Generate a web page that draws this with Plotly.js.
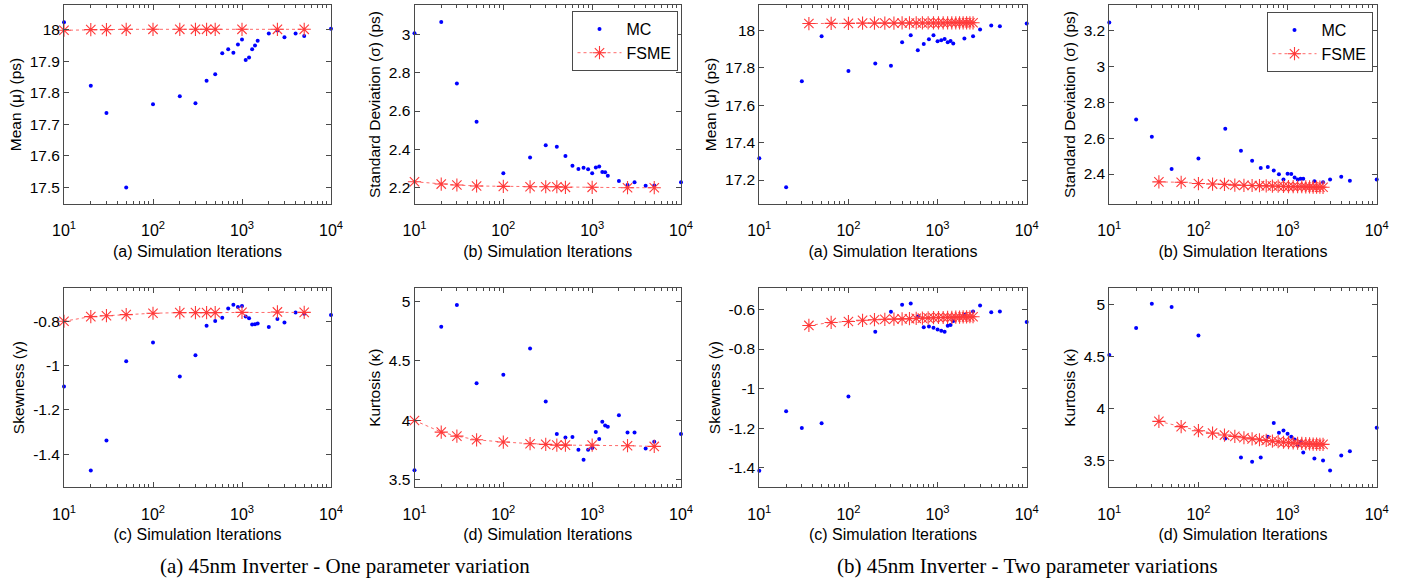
<!DOCTYPE html>
<html><head><meta charset="utf-8">
<script src="https://cdn.plot.ly/plotly-3.0.1.min.js"></script>
<style>html,body{margin:0;padding:0;background:#fff}#chart{width:1406px;height:583px}</style>
</head><body><div id="chart"></div><script>
// ---------- data ----------
const xMC = [10,20,30,50,100,200,300,400,500,600,700,800,900,1000,1100,1200,1300,1400,1500,2000,2500,3000,4000,5000,10000];
const xFSME1 = [10,20,30,50,100,200,300,400,500,1000,2500,5000];
const xFSME2 = [36,64,100,144,196,256,324,400,484,576,676,784,900,1024,1156,1296,1444,1600,1764,1936,2116,2304,2500];

// (a) one parameter variation
const mcMean1 = [18.023,17.822,17.736,17.500,17.764,17.789,17.767,17.838,17.859,17.925,17.938,17.927,17.953,17.969,17.904,17.912,17.938,17.950,17.965,17.988,17.997,17.976,17.988,17.980,18.003];
const fsmeMean1 = [17.998,18.000,18.000,18.001,18.001,18.001,18.001,18.001,18.001,18.001,18.001,18.001];
const mcStd1 = [3.005,3.064,2.743,2.544,2.275,2.358,2.421,2.414,2.365,2.315,2.297,2.304,2.296,2.275,2.306,2.311,2.282,2.280,2.263,2.235,2.214,2.228,2.210,2.212,2.228];
const fsmeStd1 = [2.231,2.219,2.214,2.209,2.207,2.205,2.205,2.205,2.202,2.202,2.200,2.200];
const mcSkew1 = [-1.094,-1.473,-1.338,-0.980,-0.896,-1.049,-0.953,-0.820,-0.799,-0.784,-0.742,-0.725,-0.736,-0.731,-0.779,-0.787,-0.815,-0.813,-0.810,-0.826,-0.790,-0.806,-0.760,-0.766,-0.772];
const fsmeSkew1 = [-0.800,-0.779,-0.775,-0.770,-0.764,-0.761,-0.761,-0.761,-0.761,-0.760,-0.758,-0.760];
const mcKurt1 = [3.576,4.787,4.972,4.312,4.382,4.604,4.157,3.882,3.854,3.857,3.750,3.666,3.750,3.764,3.899,3.840,3.986,3.955,3.944,4.042,3.896,3.896,3.761,3.817,3.882];
const fsmeKurt1 = [3.997,3.899,3.865,3.834,3.815,3.801,3.795,3.789,3.789,3.789,3.784,3.778];

// (b) two parameter variations
const mcMean2 = [17.316,17.161,17.728,17.968,17.783,17.822,17.810,17.936,17.973,17.893,17.927,17.952,17.973,17.941,17.947,17.954,17.936,17.943,17.929,17.956,17.968,18.004,18.025,18.021,18.036];
const fsmeMean2 = [18.036,18.037,18.037,18.038,18.038,18.038,18.038,18.039,18.039,18.039,18.039,18.039,18.039,18.039,18.039,18.040,18.040,18.040,18.040,18.040,18.040,18.040,18.040];
const mcStd2 = [3.243,2.704,2.607,2.428,2.487,2.652,2.530,2.474,2.433,2.439,2.420,2.398,2.370,2.402,2.400,2.381,2.370,2.374,2.374,2.359,2.354,2.370,2.385,2.363,2.370];
const fsmeStd2 = [2.356,2.354,2.347,2.344,2.342,2.338,2.337,2.336,2.335,2.334,2.333,2.332,2.331,2.330,2.330,2.329,2.329,2.328,2.328,2.327,2.327,2.327,2.326];
const mcSkew2 = [-1.414,-1.114,-1.199,-1.175,-1.040,-0.713,-0.612,-0.576,-0.570,-0.636,-0.690,-0.686,-0.693,-0.702,-0.708,-0.713,-0.683,-0.679,-0.658,-0.627,-0.610,-0.580,-0.615,-0.610,-0.664];
const fsmeSkew2 = [-0.681,-0.666,-0.661,-0.655,-0.652,-0.650,-0.649,-0.648,-0.647,-0.645,-0.644,-0.643,-0.642,-0.641,-0.641,-0.640,-0.640,-0.639,-0.639,-0.638,-0.638,-0.637,-0.637];
const mcKurt2 = [4.513,4.774,5.006,4.974,4.700,3.710,3.526,3.484,3.526,3.726,3.858,3.765,3.787,3.755,3.726,3.700,3.642,3.677,3.574,3.516,3.497,3.400,3.545,3.587,3.813];
const fsmeKurt2 = [3.874,3.823,3.784,3.761,3.742,3.729,3.716,3.705,3.697,3.690,3.684,3.678,3.673,3.669,3.666,3.663,3.661,3.659,3.657,3.655,3.654,3.653,3.652];

// tick labels
const xTickVals = [10,100,1000,10000];
const xTickText = ['10<sup>1</sup>','10<sup>2</sup>','10<sup>3</sup>','10<sup>4</sup>'];
const yTicksMean1 = [17.5,17.6,17.7,17.8,17.9,18];
const yTicksStd1 = [2.2,2.4,2.6,2.8,3];
const yTicksMean2 = [17.2,17.4,17.6,17.8,18];
const yTicksStd2 = [2.4,2.6,2.8,3,3.2];
const yTicksSkew1 = [-1.4,-1.2,-1,-0.8];
const yTicksKurt = [3.5,4,4.5,5];
const yTicksSkew2 = [-1.4,-1.2,-1,-0.8,-0.6];

const yTitles = ['Mean (μ) (ps)','Standard Deviation (σ) (ps)','Mean (μ) (ps)','Standard Deviation (σ) (ps)',
                 'Skewness (γ)','Kurtosis (κ)','Skewness (γ)','Kurtosis (κ)'];
const xTitles = ['(a) Simulation Iterations','(b) Simulation Iterations','(a) Simulation Iterations','(b) Simulation Iterations',
                 '(c) Simulation Iterations','(d) Simulation Iterations','(c) Simulation Iterations','(d) Simulation Iterations'];
const captions = ['(a) 45nm Inverter - One parameter variation','(b) 45nm Inverter - Two parameter variations'];
const seriesNames = ['MC','FSME'];

// ---------- layout (positions in px) ----------
const W = 1406, H = 583;
const colPx = [[64,331],[414.5,681],[759.3,1026.7],[1109.3,1376.7]];
const rowPx = [[5,204],[288,487.3]];

const panels = [
  {mc: mcMean1, fx: xFSME1, fy: fsmeMean1, yr:[17.448,18.078], yt: yTicksMean1, c:0, r:0},
  {mc: mcStd1,  fx: xFSME1, fy: fsmeStd1,  yr:[2.115,3.153],   yt: yTicksStd1,  c:1, r:0, legend:'legend'},
  {mc: mcMean2, fx: xFSME2, fy: fsmeMean2, yr:[17.072,18.135], yt: yTicksMean2, c:2, r:0},
  {mc: mcStd2,  fx: xFSME2, fy: fsmeStd2,  yr:[2.233,3.341],   yt: yTicksStd2,  c:3, r:0, legend:'legend2'},
  {mc: mcSkew1, fx: xFSME1, fy: fsmeSkew1, yr:[-1.549,-0.65],  yt: yTicksSkew1, c:0, r:1},
  {mc: mcKurt1, fx: xFSME1, fy: fsmeKurt1, yr:[3.433,5.115],   yt: yTicksKurt,  c:1, r:1},
  {mc: mcSkew2, fx: xFSME2, fy: fsmeSkew2, yr:[-1.498,-0.492], yt: yTicksSkew2, c:2, r:1},
  {mc: mcKurt2, fx: xFSME2, fy: fsmeKurt2, yr:[3.239,5.158],   yt: yTicksKurt,  c:3, r:1}
];

const minorVals = [];
[10,100,1000].forEach(d => { for (let k = 2; k <= 9; k++) minorVals.push(k*d); });

const FONT = 'Liberation Sans, Arial, Helvetica, sans-serif';
const AX = '#4a4a4a';
const traces = [];
const legendBase = {xanchor:'left', yanchor:'top', bgcolor:'#fff', bordercolor: AX, borderwidth: 1,
           font:{family: FONT, size: 16}, tracegroupgap: 0, itemwidth: 44};
const layout = {
  width: W, height: H,
  margin: {l:0, r:0, t:0, b:0},
  paper_bgcolor: '#fff', plot_bgcolor: '#fff',
  font: {family: FONT, color: '#000', size: 15},
  showlegend: true,
  annotations: [],
  legend: Object.assign({x: 571.5/W, y: 1-11/H}, legendBase),
  legend2: Object.assign({x: 1266.5/W, y: 1-12/H}, legendBase)
};

panels.forEach((p, i) => {
  const n = i + 1;
  const xa = 'x' + (n === 1 ? '' : n), ya = 'y' + (n === 1 ? '' : n);
  const xk = 'xaxis' + (n === 1 ? '' : n), yk = 'yaxis' + (n === 1 ? '' : n);
  const [x0, x1] = colPx[p.c], [t0, b0] = rowPx[p.r];
  layout[xk] = {
    domain: [x0/W, x1/W], anchor: ya, type: 'log', range: [1, 4],
    tickmode: 'array', tickvals: xTickVals, ticktext: xTickText,
    ticks: 'inside', ticklen: 5, tickwidth: 1, tickcolor: AX,
    minor: {tickmode: 'array', tickvals: minorVals, ticks: 'inside', ticklen: 3, tickcolor: AX, showgrid: false},
    showline: true, linecolor: AX, linewidth: 1, mirror: 'allticks',
    showgrid: false, zeroline: false,
    tickfont: {family: FONT, size: 16, color: '#000'},
    ticklabelstandoff: 12,
    title: {text: xTitles[i], font: {family: FONT, size: 16, color: '#000'}, standoff: 7}
  };
  layout[yk] = {
    domain: [1 - b0/H, 1 - t0/H], anchor: xa, range: p.yr,
    tickmode: 'array', tickvals: p.yt, ticktext: p.yt.map(v => String(v)),
    ticks: 'inside', ticklen: 5, tickwidth: 1, tickcolor: AX,
    showline: true, linecolor: AX, linewidth: 1, mirror: 'allticks',
    showgrid: false, zeroline: false,
    tickfont: {family: FONT, size: 15.5, color: '#000'},
    title: {text: yTitles[i], font: {family: FONT, size: 15.5, color: '#000'}, standoff: 4}
  };
  const show = !!p.legend;
  traces.push({
    type: 'scatter', mode: 'markers', x: xMC, y: p.mc, xaxis: xa, yaxis: ya,
    name: seriesNames[0], showlegend: show, legend: p.legend || 'legend',
    marker: {symbol: 'circle', size: 4, color: '#0000ff'}, cliponaxis: false
  });
  traces.push({
    type: 'scatter', mode: 'lines+markers', x: p.fx, y: p.fy, xaxis: xa, yaxis: ya,
    name: seriesNames[1], showlegend: show, legend: p.legend || 'legend',
    line: {color: '#ff6a6a', width: 1, dash: 'dot'},
    marker: {symbol: 'asterisk-open', size: 11, color: '#ff3a3a', line: {color: '#ff3a3a', width: 1.1}},
    cliponaxis: false
  });
});

const capFont = {family:'Liberation Serif, Times New Roman, serif', size: 21, color:'#000'};
layout.annotations.push({text: captions[0], xref:'paper', yref:'paper', x: 345/W, y: 1-566/H, xanchor:'center', yanchor:'middle',
  showarrow:false, font: capFont});
layout.annotations.push({text: captions[1], xref:'paper', yref:'paper', x: 1027/W, y: 1-566/H, xanchor:'center', yanchor:'middle',
  showarrow:false, font: capFont});

Plotly.newPlot('chart', traces, layout, {staticPlot: true, displayModeBar: false});
</script></body></html>
